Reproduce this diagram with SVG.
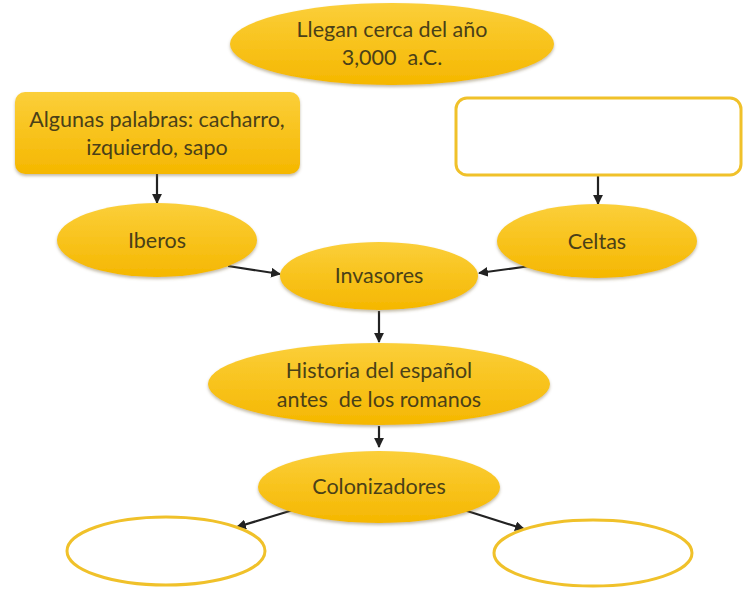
<svg xmlns="http://www.w3.org/2000/svg" width="756" height="596" viewBox="0 0 756 596">
<defs>
<linearGradient id="gold" x1="0" y1="0" x2="0" y2="1">
<stop offset="0" stop-color="#fbcf3a"/>
<stop offset="1" stop-color="#f5b700"/>
</linearGradient>
<filter id="sh" x="-10%" y="-10%" width="120%" height="130%">
<feDropShadow dx="0" dy="2" stdDeviation="1.5" flood-color="#7a6a40" flood-opacity="0.45"/>
</filter>
<marker id="ah" viewBox="0 0 10 10" refX="9" refY="5" markerWidth="4.5" markerHeight="4.5" orient="auto-start-reverse" markerUnits="strokeWidth">
<path d="M0,0 L10,5 L0,10 z" fill="#222"/>
</marker>
<style>
.f{fill:url(#gold);filter:url(#sh)}
.o{fill:#fff;stroke:#f0c12a;stroke-width:3}
.t{font-family:Lato,"Liberation Sans",sans-serif;font-size:21.5px;fill:#4a4018;text-anchor:middle;white-space:pre}
.c{stroke:#222;stroke-width:2.2;fill:none;marker-end:url(#ah)}
</style>
</defs>
<rect width="756" height="596" fill="#fff"/>
<g id="connectors">
<line class="c" x1="157" y1="174" x2="157" y2="203"/>
<line class="c" x1="598" y1="175" x2="598" y2="204"/>
<line class="c" x1="228" y1="266" x2="280" y2="274"/>
<line class="c" x1="530" y1="266" x2="479" y2="273"/>
<line class="c" x1="379" y1="311" x2="379" y2="342"/>
<line class="c" x1="379" y1="426" x2="379" y2="447"/>
<line class="c" x1="293" y1="510" x2="237" y2="527"/>
<line class="c" x1="464" y1="510" x2="524" y2="529"/>
</g>
<g id="n-llegan">
<ellipse class="f" cx="392" cy="44" rx="162" ry="41"/>
<text class="t" x="392" y="37">Llegan cerca del año</text>
<text class="t" x="392" y="65" xml:space="preserve">3,000  a.C.</text>
</g>
<g id="n-palabras">
<rect class="f" x="15" y="92" width="285" height="82" rx="10"/>
<text class="t" x="157" y="127">Algunas palabras: cacharro,</text>
<text class="t" x="157" y="155">izquierdo, sapo</text>
</g>
<g id="n-vacio-rect">
<rect class="o" x="456" y="98" width="285" height="77" rx="11"/>
</g>
<g id="n-iberos">
<ellipse class="f" cx="157" cy="240" rx="100" ry="37"/>
<text class="t" x="157" y="248">Iberos</text>
</g>
<g id="n-celtas">
<ellipse class="f" cx="597" cy="241" rx="100" ry="37"/>
<text class="t" x="597" y="249">Celtas</text>
</g>
<g id="n-invasores">
<ellipse class="f" cx="379" cy="276" rx="99" ry="34"/>
<text class="t" x="379" y="283">Invasores</text>
</g>
<g id="n-historia">
<ellipse class="f" cx="379" cy="384" rx="171" ry="41"/>
<text class="t" x="379" y="378">Historia del español</text>
<text class="t" x="379" y="407" xml:space="preserve">antes  de los romanos</text>
</g>
<g id="n-colonizadores">
<ellipse class="f" cx="379" cy="487" rx="121" ry="36"/>
<text class="t" x="379" y="494">Colonizadores</text>
</g>
<g id="n-vacio-izq">
<ellipse class="o" cx="166" cy="551" rx="99" ry="34"/>
</g>
<g id="n-vacio-der">
<ellipse class="o" cx="593" cy="553" rx="99" ry="33"/>
</g>
</svg>
